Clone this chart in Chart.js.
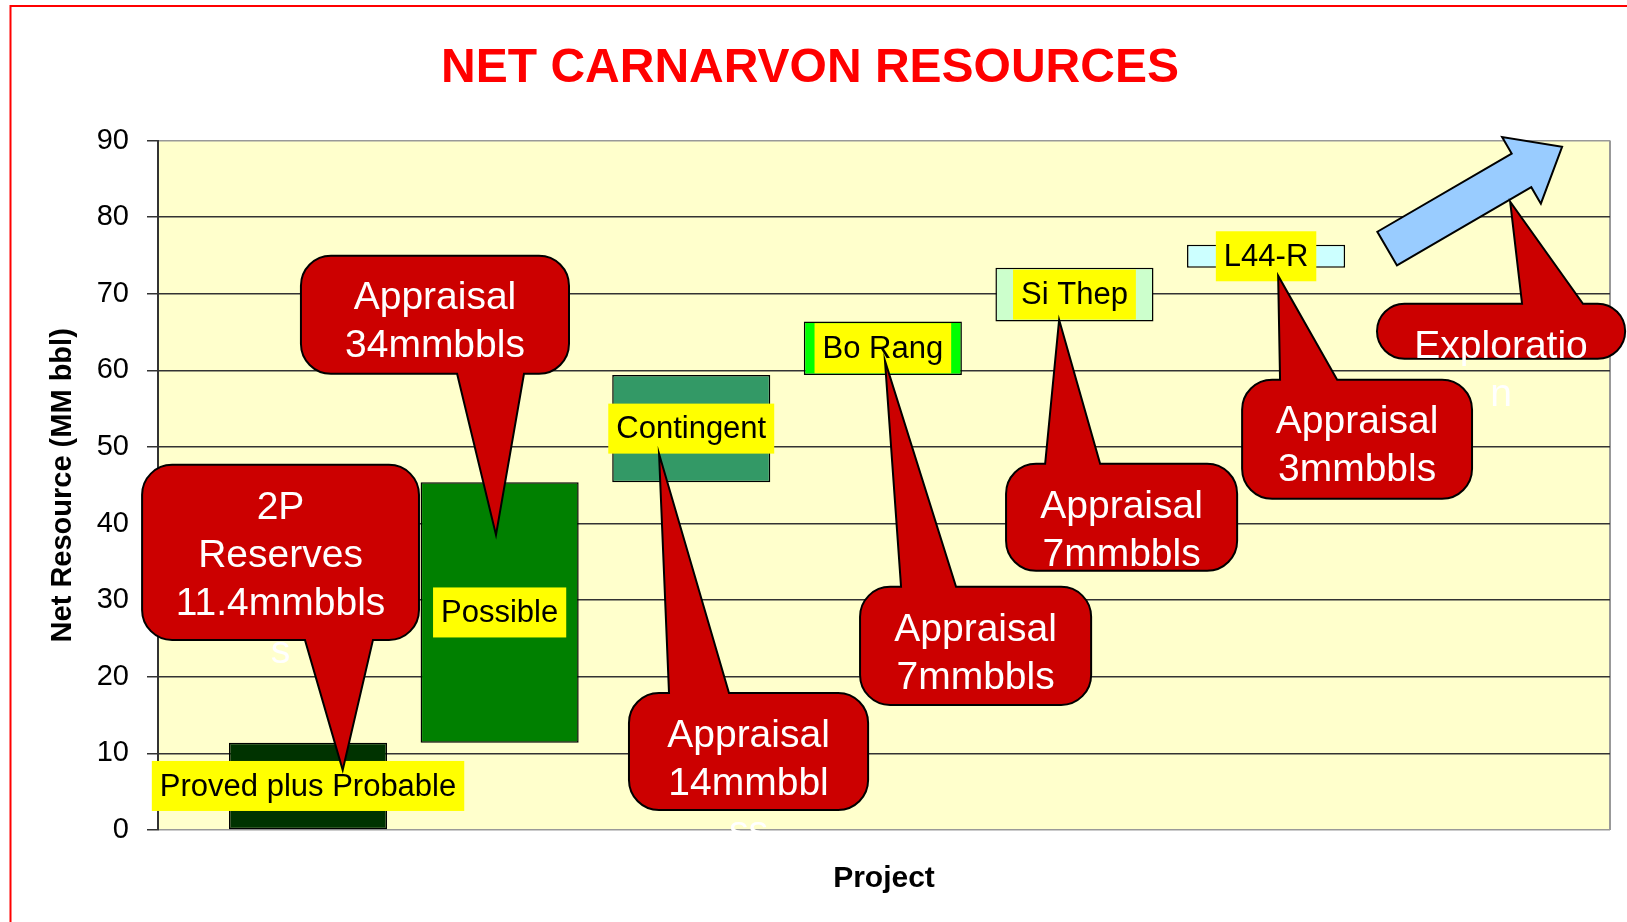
<!DOCTYPE html>
<html>
<head>
<meta charset="utf-8">
<title>Net Carnarvon Resources</title>
<script src="https://cdn.jsdelivr.net/npm/chart.js@4.4.0/dist/chart.umd.min.js"></script>
<style>
  html, body { margin: 0; padding: 0; background: #fff; }
  #chart { display: block; }
</style>
</head>
<body>
<canvas id="chart" width="1627" height="922"></canvas>
<script>
// projects along the x axis, placed at positions 1..7
const projects = ['Proved plus Probable', 'Possible', 'Contingent', 'Bo Rang', 'Si Thep', 'L44-R', 'Exploration'];
const projectPos = [1, 2, 3, 4, 5, 6, 7];
// net resource each project adds (MM bbl); exploration has no bar, only the arrow
const resourceAdded = [11.4, 34, 14, 7, 7, 3, null];
const barColors = ['#003300', '#008000', '#339966', '#00FF00', '#CCFFCC', '#CCFFFF'];
const yTicks = [0, 10, 20, 30, 40, 50, 60, 70, 80, 90];

// callouts, in axis units (x position, MM bbl)
const calloutText = [
    ['2P', 'Reserves', '11.4mmbbls', 's'],
    ['Appraisal', '34mmbbls'],
    ['Appraisal', '14mmbbl', 'ss'],
    ['Appraisal', '7mmbbls'],
    ['Appraisal', '7mmbbls'],
    ['Appraisal', '3mmbbls'],
    ['Exploratio', 'n']
];
// [left, right, top, bottom]
const calloutBox = [
    [0.134, 1.579, 47.67, 24.82],
    [0.963, 2.362, 74.97, 59.56],
    [2.675, 3.923, 17.89, 2.61],
    [3.881, 5.087, 31.74, 16.33],
    [4.643, 5.849, 47.81, 33.83],
    [5.875, 7.075, 58.78, 43.23],
    [6.579, 7.874, 68.70, 61.52]
];
const calloutTip = [[1.181, 7.84], [1.981, 38.53], [2.832, 49.11], [4.011, 61.26], [4.920, 66.61], [6.063, 72.36], [7.274, 82.03]];
const calloutBase = [[0.984, 1.339], [1.778, 2.127], [2.884, 3.197], [4.095, 4.382], [4.847, 5.134], [6.073, 6.371], [7.336, 7.654]];

// exploration upside arrow
const arrowTail = [6.632, 75.9];
const arrowTip = [7.545, 89.2];

// waterfall: each bar starts where the previous one ended
let running = 0;
const floatingBars = [];
resourceAdded.forEach(function (v, i) {
    if (v === null) return;
    floatingBars.push({ x: projectPos[i], y: [running, +(running + v).toFixed(1)] });
    running = +(running + v).toFixed(1);
});

Chart.defaults.font.family = '"Liberation Sans", Arial, sans-serif';
Chart.defaults.color = '#000';

const framePlugin = {
    id: 'frame',
    beforeDraw(chart) {
        const { ctx, chartArea: a, width, height } = chart;
        ctx.save();
        ctx.fillStyle = '#fff';
        ctx.fillRect(0, 0, width, height);
        ctx.fillStyle = '#FFFFCC';
        ctx.fillRect(a.left, a.top, a.right - a.left, a.bottom - a.top);
        ctx.strokeStyle = '#999';
        ctx.lineWidth = 2;
        ctx.beginPath();
        ctx.moveTo(a.right, a.top);
        ctx.lineTo(a.right, a.bottom);
        ctx.stroke();
        // red slide frame
        ctx.strokeStyle = '#FF0000';
        ctx.lineWidth = 2;
        ctx.beginPath();
        ctx.moveTo(10.5, height);
        ctx.lineTo(10.5, 6);
        ctx.lineTo(width, 6);
        ctx.stroke();
        ctx.restore();
    }
};

const barLabelPlugin = {
    id: 'barLabels',
    afterDatasetsDraw(chart) {
        const ctx = chart.ctx;
        const meta = chart.getDatasetMeta(0);
        ctx.save();
        ctx.font = '31px "Liberation Sans", Arial, sans-serif';
        ctx.textAlign = 'center';
        ctx.textBaseline = 'middle';
        meta.data.forEach(function (bar, i) {
            const p = bar.getProps(['x', 'y', 'base'], true);
            const cy = (p.y + p.base) / 2;
            const text = projects[i];
            const w = ctx.measureText(text).width + 16;
            ctx.fillStyle = '#FFFF00';
            ctx.fillRect(p.x - w / 2, cy - 25, w, 50);
            ctx.fillStyle = '#000';
            ctx.fillText(text, p.x, cy + 1);
        });
        ctx.restore();
    }
};

const calloutPlugin = {
    id: 'callouts',
    afterDatasetsDraw(chart) {
        const ctx = chart.ctx;
        const xs = chart.scales.x, ys = chart.scales.y;
        ctx.save();

        // block arrow
        const t = [xs.getPixelForValue(arrowTail[0]), ys.getPixelForValue(arrowTail[1])];
        const p = [xs.getPixelForValue(arrowTip[0]), ys.getPixelForValue(arrowTip[1])];
        const len = Math.hypot(p[0] - t[0], p[1] - t[1]);
        const u = [(p[0] - t[0]) / len, (p[1] - t[1]) / len];
        const n = [-u[1], u[0]];
        const sw = 19.5, hw = 38.5, hl = 47;
        const h = [p[0] - u[0] * hl, p[1] - u[1] * hl];
        const pts = [
            [t[0] + n[0] * sw, t[1] + n[1] * sw],
            [h[0] + n[0] * sw, h[1] + n[1] * sw],
            [h[0] + n[0] * hw, h[1] + n[1] * hw],
            p,
            [h[0] - n[0] * hw, h[1] - n[1] * hw],
            [h[0] - n[0] * sw, h[1] - n[1] * sw],
            [t[0] - n[0] * sw, t[1] - n[1] * sw]
        ];
        ctx.beginPath();
        pts.forEach(function (q, i) { i ? ctx.lineTo(q[0], q[1]) : ctx.moveTo(q[0], q[1]); });
        ctx.closePath();
        ctx.fillStyle = '#99CCFF';
        ctx.fill();
        ctx.strokeStyle = '#000';
        ctx.lineWidth = 2;
        ctx.stroke();

        // red speech bubbles
        calloutText.forEach(function (lines, i) {
            const b = calloutBox[i];
            const x0 = xs.getPixelForValue(b[0]), x1 = xs.getPixelForValue(b[1]);
            const y0 = ys.getPixelForValue(b[2]), y1 = ys.getPixelForValue(b[3]);
            const tx = xs.getPixelForValue(calloutTip[i][0]), ty = ys.getPixelForValue(calloutTip[i][1]);
            const b1 = xs.getPixelForValue(calloutBase[i][0]), b2 = xs.getPixelForValue(calloutBase[i][1]);
            const r = Math.min(30, (y1 - y0) / 2);
            const up = ty < y0;
            ctx.beginPath();
            ctx.moveTo(x0 + r, y0);
            if (up) { ctx.lineTo(b1, y0); ctx.lineTo(tx, ty); ctx.lineTo(b2, y0); }
            ctx.lineTo(x1 - r, y0);
            ctx.arcTo(x1, y0, x1, y0 + r, r);
            ctx.lineTo(x1, y1 - r);
            ctx.arcTo(x1, y1, x1 - r, y1, r);
            if (!up) { ctx.lineTo(b2, y1); ctx.lineTo(tx, ty); ctx.lineTo(b1, y1); }
            ctx.lineTo(x0 + r, y1);
            ctx.arcTo(x0, y1, x0, y1 - r, r);
            ctx.lineTo(x0, y0 + r);
            ctx.arcTo(x0, y0, x0 + r, y0, r);
            ctx.closePath();
            ctx.fillStyle = '#CC0000';
            ctx.fill();
            ctx.strokeStyle = '#000';
            ctx.lineWidth = 2;
            ctx.stroke();

            ctx.fillStyle = '#fff';
            ctx.font = '39px "Liberation Sans", Arial, sans-serif';
            ctx.textAlign = 'center';
            ctx.textBaseline = 'middle';
            lines.forEach(function (line, k) {
                ctx.fillText(line, (x0 + x1) / 2, y0 + 43 + k * 48);
            });
        });
        ctx.restore();
    }
};

new Chart(document.getElementById('chart'), {
    type: 'bar',
    data: {
        datasets: [{
            data: floatingBars,
            backgroundColor: barColors,
            borderColor: '#000',
            borderWidth: 1.5,
            borderSkipped: false,
            barPercentage: 0.825,
            categoryPercentage: 1
        }]
    },
    options: {
        responsive: false,
        animation: false,
        layout: {
            padding: { left: 10, right: 17, top: 0, bottom: 0 }
        },
        plugins: {
            legend: { display: false },
            tooltip: { enabled: false },
            title: {
                display: true,
                text: 'NET CARNARVON RESOURCES',
                color: '#FF0000',
                font: { size: 48, weight: 'bold' },
                padding: { top: 40, bottom: 43 }
            }
        },
        scales: {
            x: {
                type: 'linear',
                offset: false,
                min: 0.217,
                max: 7.795,
                afterBuildTicks: function (s) { s.ticks = projectPos.map(function (v) { return { value: v }; }); },
                afterFit: function (s) { s.height = 92; },
                ticks: { display: false },
                grid: { display: false },
                border: { display: false },
                title: {
                    display: true,
                    text: 'Project',
                    color: '#000',
                    font: { size: 30, weight: 'bold' },
                    padding: { top: 0, bottom: 25 }
                }
            },
            y: {
                min: 0,
                max: 90,
                afterBuildTicks: function (s) { s.ticks = yTicks.map(function (v) { return { value: v }; }); },
                afterFit: function (s) { s.width = 148; },
                ticks: {
                    color: '#000',
                    padding: 18,
                    font: { size: 29 }
                },
                grid: {
                    color: function (c) { return (c.tick.value === 0 || c.tick.value === 90) ? '#999' : '#333'; },
                    lineWidth: 1.5,
                    tickLength: 11,
                    tickColor: '#333'
                },
                border: { color: '#333', width: 2 },
                title: {
                    display: true,
                    text: 'Net Resource (MM bbl)',
                    color: '#000',
                    font: { size: 29, weight: 'bold' },
                    padding: { top: 36, bottom: 0 }
                }
            }
        }
    },
    plugins: [framePlugin, barLabelPlugin, calloutPlugin]
});
</script>
</body>
</html>
